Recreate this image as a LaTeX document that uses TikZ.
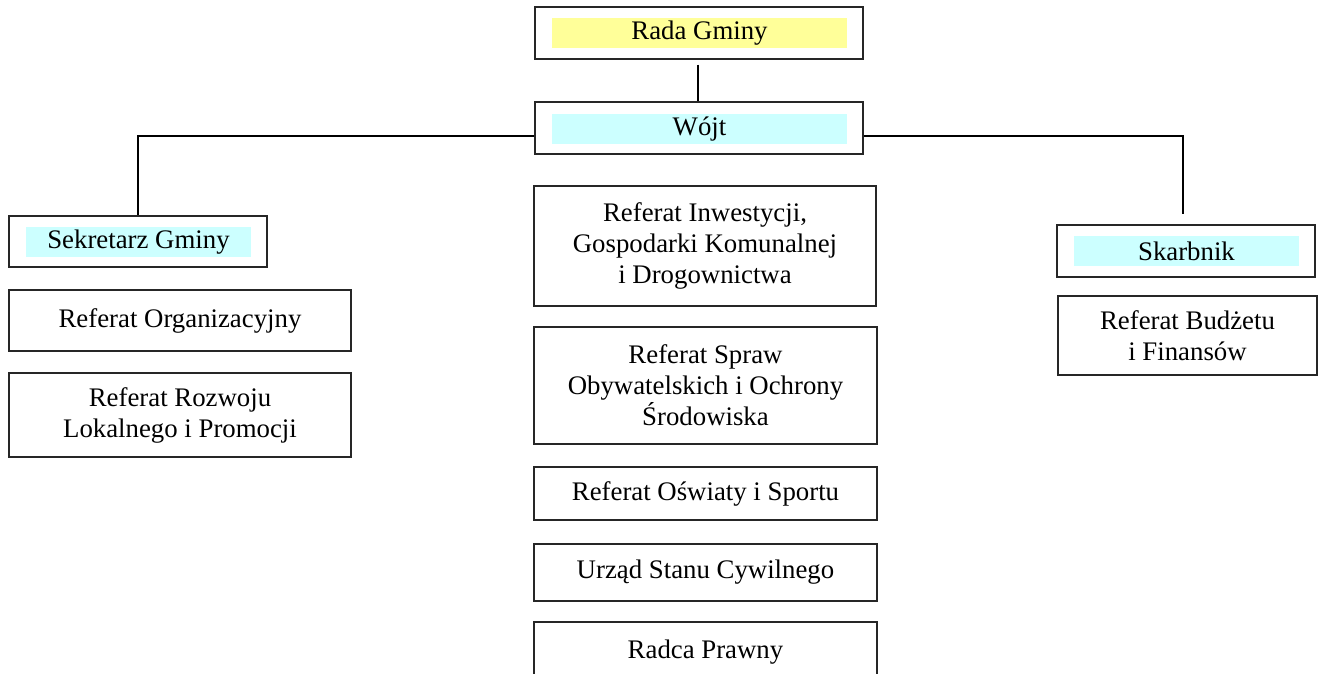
\documentclass[tikz,border=0pt]{standalone}
\usepackage{fontspec}
\setmainfont{Liberation Serif}
\definecolor{yelfill}{HTML}{FFFF99}
\definecolor{cyanfill}{HTML}{CCFFFF}
\begin{document}
\begin{tikzpicture}[x=0.5pt,y=-0.5pt,
  box/.style={draw=black!85, line width=0.7pt, rectangle, inner sep=0pt, align=center,
    font=\fontsize{13.4}{15.5}\selectfont},
  hl/.style={rectangle, inner sep=0pt, minimum height=15pt, minimum width=112.5pt,
    font=\fontsize{13.4}{15.5}\selectfont},
  conn/.style={draw=black, line width=0.7pt}]
\useasboundingbox (0,0) rectangle (1319,674);
% top boxes
\node[box, minimum width=164pt, minimum height=26pt] (rada) at (699,33) {};
\node[hl, fill=yelfill, minimum width=147.5pt] (radat) at (699.5,33) {Rada Gminy};
\node[box, minimum width=164pt, minimum height=26pt] (wojt) at (699,128) {};
\node[hl, fill=cyanfill, minimum width=147.5pt] (wojtt) at (699.5,129) {Wójt};
% left
\node[box, minimum width=129pt, minimum height=25.5pt] (sekr) at (138,241.5) {};
\node[hl, fill=cyanfill] (sekrt) at (138.5,242) {Sekretarz Gminy};
\node[box, minimum width=171pt, minimum height=30.5pt] (org) at (180,320.5) {Referat Organizacyjny};
\node[box, minimum width=171pt, minimum height=42pt] (rozw) at (180,415) {Referat Rozwoju\\Lokalnego i Promocji};
% right
\node[box, minimum width=129pt, minimum height=26pt] (skarb) at (1186,251) {};
\node[hl, fill=cyanfill] (skarbt) at (1186.5,251) {Skarbnik};
\node[box, minimum width=129.5pt, minimum height=39.5pt] (budz) at (1187.5,335.5) {Referat Budżetu\\i Finansów};
% center
\node[box, minimum width=171pt, minimum height=60pt] (inw) at (705,246) {Referat Inwestycji,\\Gospodarki Komunalnej\\i Drogownictwa};
\node[box, minimum width=171.5pt, minimum height=58.5pt] (spraw) at (705.5,385.5) {Referat Spraw\\Obywatelskich i Ochrony\\Środowiska};
\node[box, minimum width=171.5pt, minimum height=26.5pt] (osw) at (705.5,493.5) {Referat Oświaty i Sportu};
\node[box, minimum width=171.5pt, minimum height=28.5pt] (urz) at (705.5,572.5) {Urząd Stanu Cywilnego};
\node[box, minimum width=171.5pt, minimum height=30pt] (radca) at (705.5,652) {Radca Prawny};
% connectors
\coordinate (rs) at ([xshift=-0.5pt,yshift=-2.5pt]rada.south);
\draw[conn] (rs) -- (rs |- wojt.north);
\draw[conn] ([yshift=-4pt]wojt.west) -| (sekr.north);
\coordinate (sk) at ([xshift=-1.5pt,yshift=5pt]skarb.north);
\draw[conn] ([yshift=-4pt]wojt.east) -| (sk);
\end{tikzpicture}
\end{document}
